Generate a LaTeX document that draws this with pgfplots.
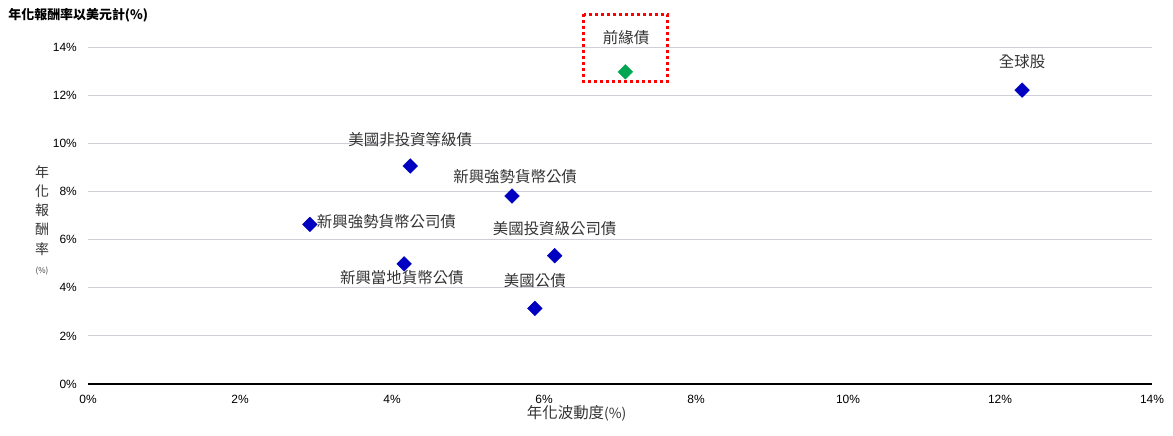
\documentclass[border=0pt]{standalone}
\usepackage{fontspec}
\setmainfont{Liberation Sans}
\newfontfamily\cjk{Noto Sans CJK TC}
\usepackage{pgfplots}
\pgfplotsset{compat=1.18}
\definecolor{ptblue}{HTML}{0000C0}
\definecolor{ptgreen}{HTML}{00A651}
\definecolor{gridgray}{HTML}{CFCFD8}
\begin{document}
\begin{tikzpicture}
\begin{axis}[
  scale only axis, width=1064bp, height=337bp,
  xmin=0, xmax=14, ymin=0, ymax=14,
  clip=false,
  axis line style={draw=none},
  major tick length=0pt,
  xtick={0,2,...,14}, ytick={0,2,...,14},
  ymajorgrids, grid style={gridgray, line width=0.9bp},
  extra y ticks={0}, extra y tick labels={},
  extra y tick style={grid style={black, line width=1.3bp}},
  /pgf/number format/assume math mode=true,
  xticklabel={\pgfmathprintnumber{\tick}\%},
  yticklabel={\pgfmathprintnumber{\tick}\%},
  ticklabel style={font=\fontsize{12}{14}\selectfont, inner sep=0pt},
  yticklabel style={anchor=east, xshift=-11bp},
  xticklabel style={anchor=center, yshift=-15bp},
]
% invisible frame giving the picture the reference proportions
\path (axis cs:-1.1579,-2.1188) rectangle (axis cs:14.2763,15.9535);

\addplot[only marks, mark=square*, mark size=5.2bp, mark options={rotate=45, ptblue}, color=ptblue]
  coordinates {
  (4.24,9.06) (5.58,7.81) (2.92,6.63) (6.14,5.33) (4.16,4.99) (5.88,3.14) (12.29,12.21)
  };
\addplot[only marks, mark=square*, mark size=5.2bp, mark options={rotate=45, ptgreen}, color=ptgreen]
  coordinates {(7.07,12.97)};

\draw[red, line width=3bp, dash pattern=on 3bp off 3bp]
  (axis cs:6.52,15.37) rectangle (axis cs:7.62,12.56);

\begin{scope}[every node/.style={font=\cjk\fontsize{15.5}{18}\selectfont, text=black!80, inner sep=0pt}]
\node at (axis cs:4.24,10.17) {美國非投資等級債};
\node at (axis cs:5.62,8.61) {新興強勢貨幣公債};
\node[anchor=west] at (axis cs:3.01,6.74) {新興強勢貨幣公司債};
\node at (axis cs:6.14,6.47) {美國投資級公司債};
\node at (axis cs:4.13,4.43) {新興當地貨幣公債};
\node at (axis cs:5.88,4.28) {美國公債};
\node at (axis cs:7.08,14.4) {前緣債};
\node at (axis cs:12.29,13.39) {全球股};
\node at (axis cs:6.43,-1.2) {年化波動度\fontsize{14}{16}\selectfont(\%)};
\end{scope}

\node[anchor=west, inner sep=0pt, font=\cjk\bfseries\fontsize{13}{15}\selectfont]
  at (axis cs:-1.05,15.33) {年化報酬率以美元計(\%)};

\node[align=center, inner sep=0pt, text=black!80, font=\cjk\fontsize{14}{19.3}\selectfont]
  at (axis cs:-0.605,6.81) {年\\化\\報\\酬\\率\\{\fontsize{8}{10}\selectfont(\%)}};
\end{axis}
\end{tikzpicture}
\end{document}
